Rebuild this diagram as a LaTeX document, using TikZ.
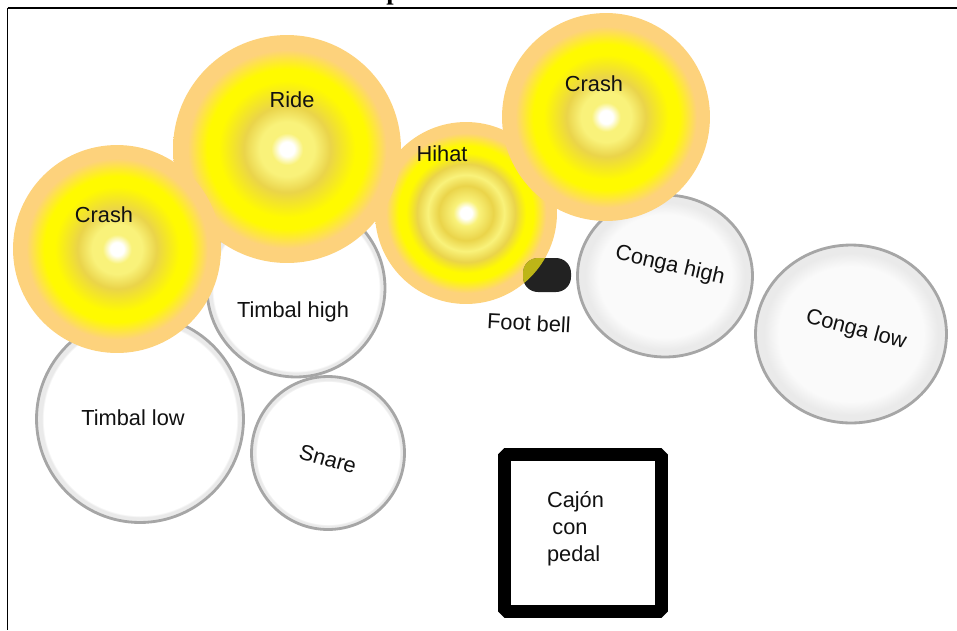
\documentclass[tikz,border=0pt]{standalone}
\usepackage{fontspec}
\setmainfont{Liberation Sans}
\newfontfamily\titleserif{Liberation Serif}
\usetikzlibrary{shapes.geometric,positioning}

\definecolor{ink}{HTML}{111111}
\definecolor{rim}{HTML}{A6A6A6}
\definecolor{drumband}{HTML}{EAEAEA}
\definecolor{congain}{HTML}{FAFAFA}
\definecolor{cymlight}{HTML}{F9F27A}
\definecolor{cymdark}{HTML}{EAD44A}
\definecolor{cymbright}{HTML}{FFFA00}
\definecolor{cymedge}{HTML}{FDD27C}
\definecolor{bellgray}{HTML}{222222}

% the rim of a shaded node sits at 25bp
\pgfdeclareradialshading{cymbalshade}{\pgfpoint{0bp}{0bp}}{color(0bp)=(white); color(1.6bp)=(white); color(3.5bp)=(cymlight); color(6bp)=(cymlight); color(9.5bp)=(cymdark); color(15bp)=(cymbright); color(17.5bp)=(cymbright); color(21.8bp)=(cymedge); color(50bp)=(cymedge)}
\pgfdeclareradialshading{hihatshade}{\pgfpoint{0bp}{0bp}}{color(0bp)=(white); color(1.6bp)=(white); color(3.5bp)=(cymlight); color(7.5bp)=(cymdark); color(10.5bp)=(cymlight); color(13.5bp)=(cymdark); color(16.5bp)=(cymbright); color(18.5bp)=(cymbright); color(22bp)=(cymedge); color(50bp)=(cymedge)}
\pgfdeclareradialshading{timbalshade}{\pgfpoint{0bp}{0bp}}{color(0bp)=(white); color(23.3bp)=(white); color(23.7bp)=(drumband); color(50bp)=(drumband)}
\pgfdeclareradialshading{congashade}{\pgfpoint{0bp}{0bp}}{color(0bp)=(congain); color(19bp)=(congain); color(22.8bp)=(drumband); color(50bp)=(drumband)}

\begin{document}
\begin{tikzpicture}[x=0.02cm,y=-0.02cm,
  drum/.style={circle,draw=rim,line width=1.6pt,shade,shading=timbalshade,inner sep=0pt},
  conga/.style={ellipse,draw=rim,line width=1.6pt,shade,shading=congashade,inner sep=0pt},
  cymbal/.style={circle,shade,shading=cymbalshade,inner sep=0pt},
  bell/.style={rectangle,rounded corners=8.5pt,fill=bellgray,inner sep=0pt,minimum width=0.96cm,minimum height=0.68cm},
  lbl/.style={font=\fontsize{12.4}{15.3}\selectfont,text=ink,inner sep=0pt}]
\useasboundingbox (0,0) rectangle (957,630);

% frame and what is left of the title
\node[font=\titleserif\bfseries\fontsize{15}{17}\selectfont,anchor=base west,inner sep=0pt] (title) at (386,-0.5) {p};
\draw[line width=1.3pt] (7.5,7.8) -- (957,7.8);
\draw[line width=0.85pt] (7.5,7.8) -- (7.5,630);

% drums
\node[drum,minimum size=4.14cm] (timballow) at (140,419) {};
\node[drum,minimum size=3.56cm] (timbalhigh) at (296,288) {};
\node[drum,minimum size=3.06cm] (snare) at (328,453) {};
\node[conga,minimum width=3.5cm,minimum height=3.24cm] (congahigh) at (665,276) {};
\node[conga,minimum width=3.82cm,minimum height=3.56cm] (congalow) at (851,334) {};

% cymbals and bell
\node[cymbal,shading=hihatshade,minimum size=3.64cm] (hihat) at (466,213) {};
\node[bell,path picture={\fill[cymbright!85!cymedge,opacity=.7] (hihat.center) circle (1.82cm);}] (footbell) at (547,275) {};
\node[cymbal,minimum size=4.56cm] (ride) at (287,149) {};
\node[cymbal,minimum size=4.16cm] (crashleft) at (117,249) {};
\node[cymbal,minimum size=4.16cm] (crashright) at (606,117) {};

% cajon
\node[draw=black,line width=7.4pt,line join=bevel,minimum size=3.13cm,inner sep=0pt] (cajon) at (583,533) {};

% labels
\node[lbl] (crashlefttext) at (104,215) {Crash};
\node[lbl] (ridetext) at (292,100) {Ride};
\node[lbl] (hihattext) at (442,154) {Hihat};
\node[lbl] (crashrighttext) at (594,84) {Crash};
\node[lbl] (timbalhightext) at (293,312) {Timbal high};
\node[lbl] (timballowtext) at (133,418) {Timbal low};
\node[lbl,rotate=-16] (snaretext) at (328,459) {Snare};
\node[lbl,rotate=-3] (footbelltext) at (529,323) {Foot bell};
\node[lbl,rotate=-13] (congahightext) at (670,266) {Conga high};
\node[lbl,rotate=-15] (congalowtext) at (856,330) {Conga low};
\node[lbl,align=left] (cajontext) at (575.5,528.4) {Cajón\\\hspace{0.25em}con\\pedal};
\end{tikzpicture}
\end{document}
